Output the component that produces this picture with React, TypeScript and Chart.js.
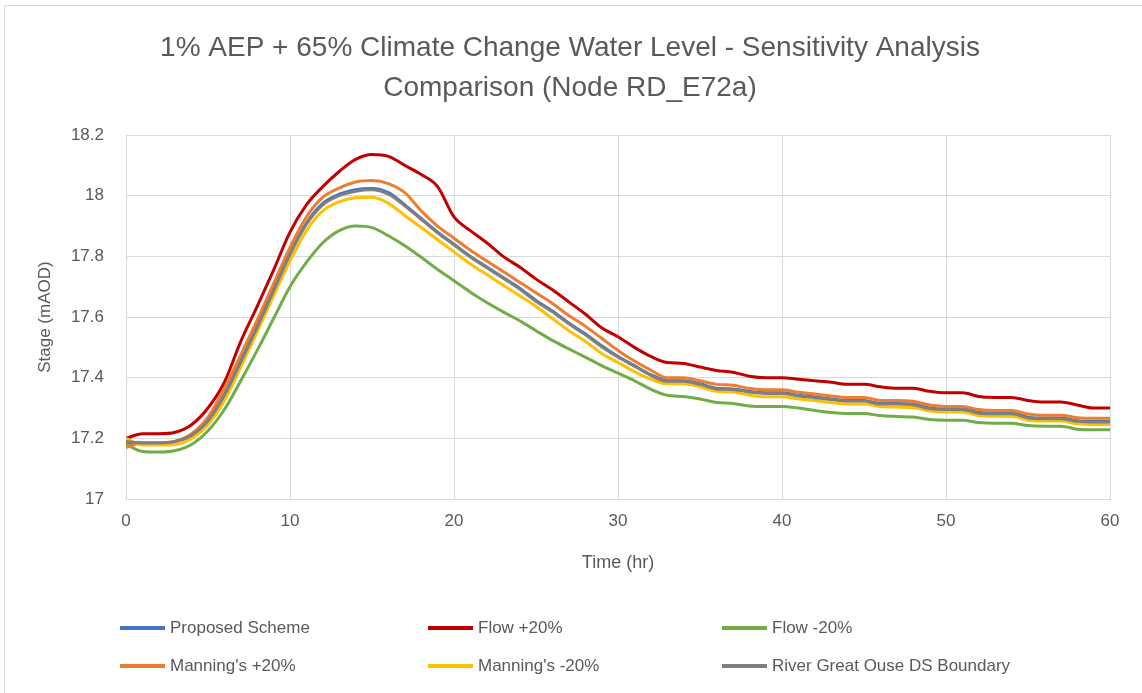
import React, { useEffect, useRef } from 'react';
import { Chart, registerables } from 'chart.js';

Chart.register(...registerables);

const FONT = '"Liberation Sans", Arial, sans-serif';
const TEXT = '#595959';
const GRID = '#d9d9d9';

const titleLines = [
  '1% AEP + 65% Climate Change Water Level - Sensitivity Analysis',
  'Comparison (Node RD_E72a)',
];
const xTitle = 'Time (hr)';
const yTitle = 'Stage (mAOD)';

const xTicks = [0, 10, 20, 30, 40, 50, 60];
const yTicks = [17, 17.2, 17.4, 17.6, 17.8, 18, 18.2];

const hours = [
  0, 1, 2, 3, 4, 5, 6, 7, 8, 9, 10, 11, 12, 13, 14, 15, 16, 17, 18, 19, 20,
  21, 22, 23, 24, 25, 26, 27, 28, 29, 30, 31, 32, 33, 34, 35, 36, 37, 38, 39, 40,
  41, 42, 43, 44, 45, 46, 47, 48, 49, 50, 51, 52, 53, 54, 55, 56, 57, 58, 59, 60,
];

const proposedScheme = [
  17.185, 17.185, 17.185, 17.19, 17.21, 17.26, 17.345, 17.455, 17.57, 17.69,
  17.81, 17.91, 17.975, 18.005, 18.02, 18.024, 18.01, 17.97, 17.925, 17.88,
  17.84, 17.8, 17.765, 17.73, 17.695, 17.655, 17.62, 17.58, 17.545, 17.505,
  17.47, 17.44, 17.41, 17.39, 17.39, 17.38, 17.365, 17.363, 17.355, 17.35,
  17.35, 17.342, 17.336, 17.33, 17.325, 17.325, 17.315, 17.315, 17.313, 17.3,
  17.297, 17.297, 17.285, 17.283, 17.283, 17.27, 17.267, 17.267, 17.258, 17.256, 17.256,
];
const flowPlus20 = [
  17.2, 17.215, 17.215, 17.22, 17.245, 17.3, 17.385, 17.52, 17.635, 17.755,
  17.88, 17.97, 18.03, 18.08, 18.12, 18.136, 18.13, 18.1, 18.07, 18.03,
  17.93, 17.885, 17.845, 17.8, 17.765, 17.725, 17.69, 17.65, 17.61, 17.565,
  17.535, 17.5, 17.47, 17.45, 17.447, 17.435, 17.424, 17.418, 17.405, 17.4,
  17.4, 17.395, 17.39, 17.385, 17.378, 17.378, 17.37, 17.365, 17.365, 17.355,
  17.35, 17.35, 17.338, 17.335, 17.335, 17.325, 17.32, 17.32, 17.31, 17.3, 17.3,
];
const flowMinus20 = [
  17.18, 17.157, 17.155, 17.16, 17.18, 17.225, 17.295, 17.39, 17.49, 17.595,
  17.7, 17.78, 17.845, 17.885, 17.9, 17.895, 17.868, 17.835, 17.797, 17.757,
  17.72, 17.682, 17.648, 17.617, 17.588, 17.555, 17.523, 17.495, 17.468, 17.44,
  17.415, 17.39, 17.362, 17.342, 17.338, 17.33, 17.318, 17.315, 17.307, 17.305,
  17.305, 17.3, 17.292, 17.285, 17.282, 17.282, 17.275, 17.272, 17.27, 17.262,
  17.26, 17.26, 17.252, 17.25, 17.25, 17.242, 17.24, 17.24, 17.23, 17.228, 17.228,
];
const manningsPlus20 = [
  17.17, 17.185, 17.185, 17.19, 17.215, 17.27, 17.365, 17.475, 17.59, 17.71,
  17.83, 17.93, 17.995, 18.025, 18.045, 18.05, 18.04, 18.01, 17.95, 17.9,
  17.86, 17.82, 17.785, 17.75, 17.715, 17.68, 17.645, 17.605, 17.57, 17.53,
  17.49, 17.455, 17.425, 17.4, 17.4, 17.39, 17.378, 17.375, 17.365, 17.36,
  17.36, 17.352, 17.346, 17.34, 17.335, 17.335, 17.325, 17.325, 17.322, 17.31,
  17.305, 17.305, 17.295, 17.292, 17.292, 17.28, 17.276, 17.276, 17.268, 17.266, 17.266,
];
const manningsMinus20 = [
  17.2, 17.178, 17.178, 17.18, 17.2, 17.245, 17.325, 17.435, 17.55, 17.67,
  17.785, 17.885, 17.95, 17.98, 17.993, 17.995, 17.975, 17.935, 17.895, 17.855,
  17.815, 17.775, 17.74, 17.705, 17.67, 17.635, 17.595, 17.555, 17.52, 17.48,
  17.45, 17.42, 17.395, 17.38, 17.38, 17.37, 17.355, 17.353, 17.343, 17.337,
  17.337, 17.33, 17.325, 17.318, 17.313, 17.313, 17.305, 17.303, 17.302, 17.29,
  17.287, 17.287, 17.275, 17.273, 17.273, 17.26, 17.257, 17.257, 17.248, 17.246, 17.246,
];
const dsBoundary = [
  17.19, 17.185, 17.185, 17.19, 17.21, 17.258, 17.342, 17.452, 17.567, 17.687,
  17.807, 17.906, 17.97, 18.0, 18.015, 18.02, 18.005, 17.967, 17.922, 17.878,
  17.838, 17.798, 17.763, 17.728, 17.692, 17.652, 17.617, 17.578, 17.542, 17.502,
  17.468, 17.438, 17.408, 17.388, 17.388, 17.378, 17.363, 17.361, 17.353, 17.348,
  17.348, 17.34, 17.334, 17.328, 17.323, 17.323, 17.313, 17.313, 17.311, 17.298,
  17.295, 17.295, 17.283, 17.281, 17.281, 17.268, 17.265, 17.265, 17.256, 17.254, 17.254,
];

const seriesLabels = [
  'Proposed Scheme',
  'Flow +20%',
  'Flow -20%',
  "Manning's +20%",
  "Manning's -20%",
  'River Great Ouse DS Boundary',
];
const seriesValues = [proposedScheme, flowPlus20, flowMinus20, manningsPlus20, manningsMinus20, dsBoundary];
const seriesColors = ['#4472C4', '#C00000', '#70AD47', '#ED7D31', '#FFC000', '#7F7F7F'];

export default function App() {
  const ref = useRef<HTMLCanvasElement>(null);

  useEffect(() => {
    const canvas = ref.current;
    if (!canvas) return;
    const chart = new Chart(canvas, {
      type: 'line',
      data: {
        datasets: seriesLabels.map((label, i) => ({
          label,
          data: hours.map((h, j) => ({ x: h, y: seriesValues[i][j] })),
          borderColor: seriesColors[i],
          backgroundColor: seriesColors[i],
          borderWidth: 3,
          pointRadius: 0,
          fill: false,
          cubicInterpolationMode: 'monotone' as const,
          order: seriesLabels.length - i,
        })),
      },
      options: {
        responsive: false,
        animation: false,
        layout: { padding: { left: 30, top: 10, right: 32, bottom: 114 } },
        plugins: {
          legend: { display: false },
          tooltip: { enabled: false },
          title: {
            display: true,
            text: titleLines,
            color: TEXT,
            font: { family: FONT, size: 28, weight: 'normal', lineHeight: 1.43 },
            padding: { top: 18, bottom: 27 },
          },
        },
        scales: {
          x: {
            type: 'linear',
            min: 0,
            max: 60,
            afterBuildTicks: (s: any) => {
              s.ticks = xTicks.map((v) => ({ value: v }));
            },
            afterFit: (s: any) => {
              s.height = 80;
            },
            grid: { color: GRID, drawTicks: false, lineWidth: 1 },
            border: { color: GRID },
            ticks: {
              color: TEXT,
              font: { family: FONT, size: 17 },
              padding: 12,
              maxRotation: 0,
              callback: (v: any) => String(v),
            },
            title: {
              display: true,
              text: xTitle,
              color: TEXT,
              font: { family: FONT, size: 18 },
              padding: { top: 0, bottom: 5 },
            },
          },
          y: {
            type: 'linear',
            min: 17,
            max: 18.2,
            afterBuildTicks: (s: any) => {
              s.ticks = yTicks.map((v) => ({ value: v }));
            },
            afterFit: (s: any) => {
              s.width = 96;
            },
            grid: { color: GRID, drawTicks: false, lineWidth: 1 },
            border: { color: GRID },
            ticks: {
              color: TEXT,
              font: { family: FONT, size: 17 },
              padding: 22,
              callback: (v: any) => String(Number(Number(v).toFixed(1))),
            },
            title: {
              display: true,
              text: yTitle,
              color: TEXT,
              font: { family: FONT, size: 17 },
              padding: { top: 5, bottom: 0 },
            },
          },
        },
      },
    });
    return () => chart.destroy();
  }, []);

  const legendCols = [120, 428, 722];
  const legendRows = [628, 666];

  return (
    <div style={{ position: 'absolute', left: 0, top: 0, width: 1142, height: 693, background: '#fff', overflow: 'hidden' }}>
      <div
        style={{
          position: 'absolute',
          left: 4,
          top: 5,
          width: 1160,
          height: 720,
          borderTop: '1px solid #d9d9d9',
          borderLeft: '1px solid #d9d9d9',
        }}
      />
      <canvas ref={ref} width={1142} height={693} style={{ position: 'absolute', left: 0, top: 0, width: 1142, height: 693 }} />
      {seriesLabels.map((label, i) => {
        const col = i % 3;
        const row = Math.floor(i / 3);
        return (
          <div
            key={label}
            style={{
              position: 'absolute',
              left: legendCols[col],
              top: legendRows[row] - 12,
              height: 24,
              display: 'flex',
              alignItems: 'center',
              fontFamily: FONT,
              fontSize: 17,
              color: TEXT,
              whiteSpace: 'nowrap',
            }}
          >
            <span style={{ display: 'inline-block', width: 45, height: 4, background: seriesColors[i], marginRight: 5 }} />
            <span>{label}</span>
          </div>
        );
      })}
    </div>
  );
}
